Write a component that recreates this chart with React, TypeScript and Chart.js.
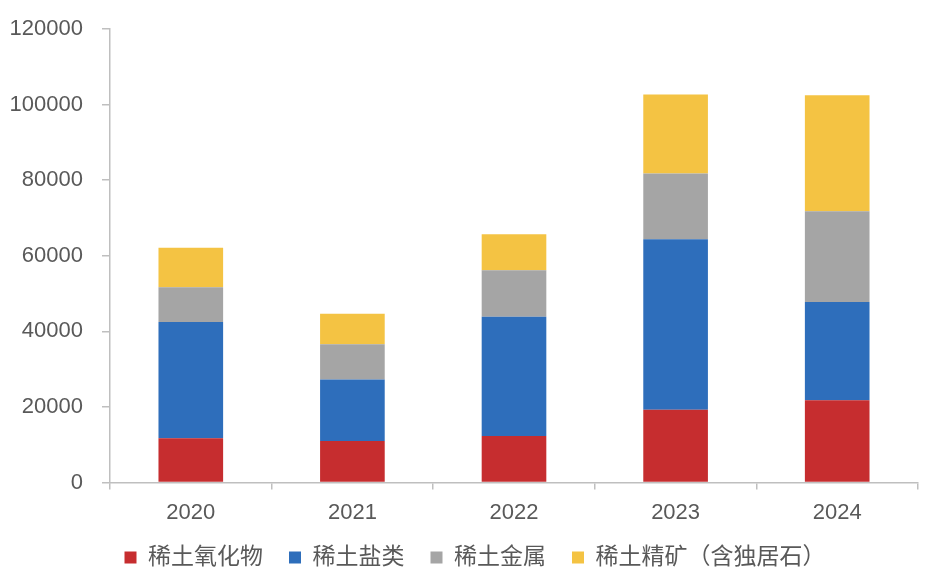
import React, { useEffect, useRef } from 'react';
import { Chart, registerables } from 'chart.js';

Chart.register(...registerables);

// 年份
const years = ['2020', '2021', '2022', '2023', '2024'];

// 各品类出口量（吨），从图上读出的估计值
const oxide = [11700, 11000, 12300, 19300, 21800];
const salts = [30800, 16300, 31600, 45100, 26000];
const metals = [9200, 9300, 12300, 17400, 24000];
const concentrate = [10400, 8100, 9500, 20900, 30700];

const seriesNames = ['稀土氧化物', '稀土盐类', '稀土金属', '稀土精矿（含独居石）'];
const seriesColors = ['#C62D2F', '#2E6EBB', '#A5A5A5', '#F4C343'];

const yTicks = [0, 20000, 40000, 60000, 80000, 100000, 120000];

const FONT = '"Liberation Sans", Arial, "Noto Sans CJK SC", sans-serif';
const AXIS = '#BFBFBF';
const TEXT = '#595959';

// 图例挪位置（只影响绘制，不影响布局）
const legendShift = {
    id: 'legendShift',
    afterLayout(chart: any) {
        const lg = chart.legend;
        if (lg) {
            lg.top -= 16;
            lg.bottom -= 16;
            lg.left += 12;
            lg.right += 12;
        }
    },
};

const App: React.FC = () => {
    const chartRef = useRef<HTMLCanvasElement | null>(null);

    useEffect(() => {
        if (!chartRef.current) return;
        const ctx = chartRef.current.getContext('2d');
        if (!ctx) return;

        const values = [oxide, salts, metals, concentrate];

        const chart = new Chart(ctx, {
            type: 'bar',
            data: {
                labels: years,
                datasets: values.map((v, i) => ({
                    label: seriesNames[i],
                    data: v,
                    backgroundColor: seriesColors[i],
                    borderWidth: 0,
                    barPercentage: 0.4,
                    categoryPercentage: 1,
                })),
            },
            options: {
                responsive: false,
                animation: false,
                devicePixelRatio: 1,
                layout: {
                    padding: { left: 8, right: 18, top: 0, bottom: -13 },
                },
                plugins: {
                    tooltip: { enabled: false },
                    legend: {
                        position: 'bottom',
                        labels: {
                            boxWidth: 12,
                            boxHeight: 12,
                            padding: 26,
                            color: TEXT,
                            font: { family: FONT, size: 23 },
                        },
                    },
                },
                scales: {
                    x: {
                        stacked: true,
                        offset: true,
                        grid: {
                            display: true,
                            drawOnChartArea: false,
                            drawTicks: true,
                            tickLength: 7,
                            color: AXIS,
                            lineWidth: 1.5,
                            offset: true,
                        },
                        border: { color: AXIS, width: 1.5 },
                        ticks: {
                            color: TEXT,
                            padding: 10,
                            font: { family: FONT, size: 22 },
                        },
                    },
                    y: {
                        stacked: true,
                        min: 0,
                        max: 120000,
                        afterBuildTicks: (scale) => {
                            scale.ticks = yTicks.map((v) => ({ value: v }));
                        },
                        afterFit: (scale: any) => {
                            scale.width = 102;
                            scale.paddingTop = 29;
                            scale.paddingBottom = 0;
                        },
                        grid: {
                            display: true,
                            drawOnChartArea: false,
                            drawTicks: true,
                            tickLength: 8,
                            color: AXIS,
                            lineWidth: 1.5,
                        },
                        border: { color: AXIS, width: 1.5 },
                        ticks: {
                            color: TEXT,
                            padding: 19,
                            font: { family: FONT, size: 22 },
                            callback: (v) => String(v),
                        },
                    },
                },
            },
            plugins: [legendShift],
        });

        return () => {
            chart.destroy();
        };
    }, []);

    return (
        <div style={{ position: 'absolute', left: 0, top: 0, width: 936, height: 582, background: '#fff' }}>
            <canvas ref={chartRef} width={936} height={582}></canvas>
        </div>
    );
};

export default App;
